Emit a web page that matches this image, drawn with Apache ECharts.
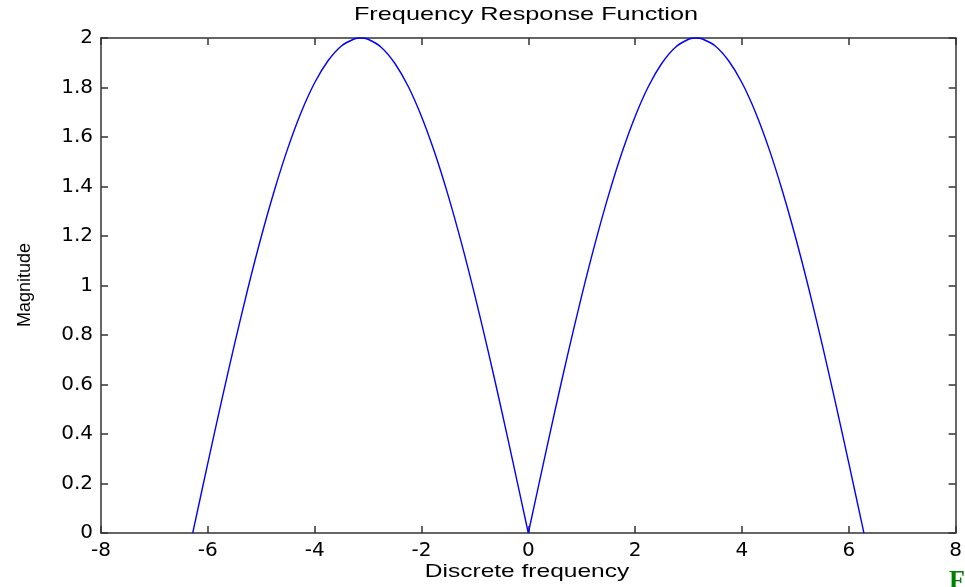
<!DOCTYPE html>
<html>
<head>
<meta charset="utf-8">
<script src="https://cdn.jsdelivr.net/npm/echarts@6/dist/echarts.min.js"></script>
<style>
  html, body { margin: 0; padding: 0; background: #fff; }
  #main { width: 965px; height: 587px; }
</style>
</head>
<body>
<div id="main"></div>
<script>
// values
const freq = [-6.283, -6.25, -6.0, -5.75, -5.5, -5.25, -5.0, -4.75, -4.5, -4.25, -4.0, -3.75, -3.5, -3.25, -3.142,
  -3.0, -2.75, -2.5, -2.25, -2.0, -1.75, -1.5, -1.25, -1.0, -0.75, -0.5, -0.25, 0,
  0.25, 0.5, 0.75, 1.0, 1.25, 1.5, 1.75, 2.0, 2.25, 2.5, 2.75, 3.0, 3.142,
  3.25, 3.5, 3.75, 4.0, 4.25, 4.5, 4.75, 5.0, 5.25, 5.5, 5.75, 6.0, 6.25, 6.283];
const mag = [0.0, 0.033, 0.282, 0.527, 0.763, 0.988, 1.197, 1.387, 1.556, 1.701, 1.819, 1.908, 1.968, 1.997, 2.0,
  1.995, 1.962, 1.898, 1.805, 1.683, 1.535, 1.363, 1.170, 0.959, 0.733, 0.495, 0.249, 0.0,
  0.249, 0.495, 0.733, 0.959, 1.170, 1.363, 1.535, 1.683, 1.805, 1.898, 1.962, 1.995, 2.0,
  1.997, 1.968, 1.908, 1.819, 1.701, 1.556, 1.387, 1.197, 0.988, 0.763, 0.527, 0.282, 0.033, 0.0];
const xTicks = { min: -8, max: 8, step: 2 };
const yTicks = { min: 0, max: 2, step: 0.2 };

const chart = echarts.init(document.getElementById('main'));

const axisLine = { show: true, onZero: false, lineStyle: { color: '#333', width: 1.5 } };
const tick = { show: true, inside: true, length: 7, lineStyle: { color: '#333', width: 1.5 } };
const label = { color: '#000', fontFamily: 'DejaVu Sans', fontSize: 20 };

// the two arches meet in a sharp notch at 0, so draw each one on its own
const pts = freq.map((f, i) => [f, mag[i]]);
const mid = freq.indexOf(0);
const arch = (data) => ({
  type: 'line',
  data: data,
  showSymbol: false,
  smooth: 0.3,
  lineStyle: { color: '#0000ff', width: 1.4 },
  clip: false
});

const option = {
  animation: false,
  backgroundColor: '#fff',
  grid: { left: 101, right: 8, top: 38, bottom: 54 },
  xAxis: [
    {
      type: 'value', position: 'bottom',
      min: xTicks.min, max: xTicks.max, interval: xTicks.step,
      axisLine: axisLine, axisTick: tick,
      axisLabel: Object.assign({ margin: 8 }, label),
      splitLine: { show: false }
    },
    {
      type: 'value', position: 'top',
      min: xTicks.min, max: xTicks.max, interval: xTicks.step,
      axisLine: axisLine, axisTick: tick,
      axisLabel: { show: false }, splitLine: { show: false }
    }
  ],
  yAxis: [
    {
      type: 'value', position: 'left',
      min: yTicks.min, max: yTicks.max, interval: yTicks.step,
      axisLine: axisLine, axisTick: tick,
      axisLabel: Object.assign({ margin: 8 }, label),
      splitLine: { show: false }
    },
    {
      type: 'value', position: 'right',
      min: yTicks.min, max: yTicks.max, interval: yTicks.step,
      axisLine: axisLine, axisTick: tick,
      axisLabel: { show: false }, splitLine: { show: false }
    }
  ],
  series: [arch(pts.slice(0, mid + 1)), arch(pts.slice(mid))],
  graphic: [
    {
      type: 'text', x: 526, y: 5, scaleX: 1.33,
      style: { text: 'Frequency Response Function', fill: '#000', font: '19px "Liberation Sans", Arial', textAlign: 'center', textVerticalAlign: 'top' }
    },
    {
      type: 'text', x: 527, y: 562, scaleX: 1.29,
      style: { text: 'Discrete frequency', fill: '#000', font: '19px "Liberation Sans", Arial', textAlign: 'center', textVerticalAlign: 'top' }
    },
    {
      type: 'text', x: 25, y: 285, rotation: Math.PI / 2,
      style: { text: 'Magnitude', fill: '#000', font: '18px "Liberation Sans", Arial', textAlign: 'center', textVerticalAlign: 'middle' }
    },
    {
      type: 'text', x: 949, y: 568,
      style: { text: 'Fig', fill: '#008000', font: 'bold 26px "Liberation Serif", serif', textAlign: 'left', textVerticalAlign: 'top' }
    }
  ]
};
chart.setOption(option);
</script>
</body>
</html>
